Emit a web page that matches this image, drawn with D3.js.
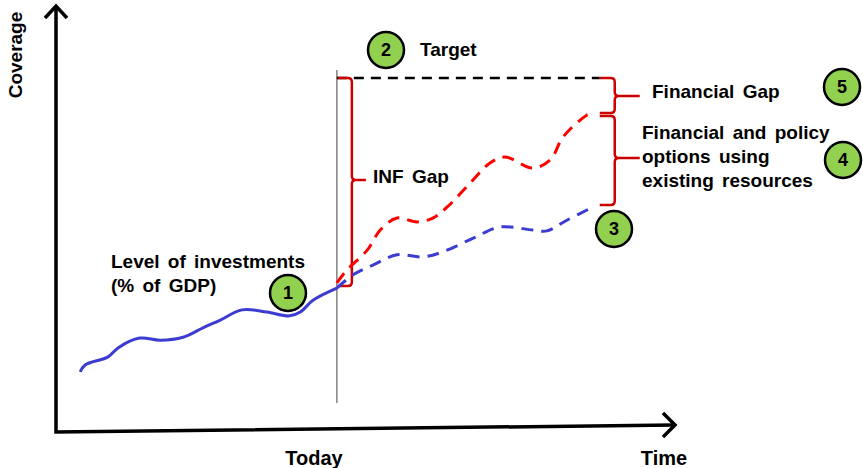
<!DOCTYPE html>
<meta charset="utf-8">
<style>
  body { margin: 0; background: #fff; }
  text { font-family: "Liberation Sans", Arial, sans-serif; font-weight: bold; fill: #000; }
  .narrow { font-family: "Liberation Sans Narrow", "Liberation Sans", Arial, sans-serif; }
</style>
<script src="https://d3js.org/d3.v7.min.js"></script>
<div id="chart"></div>
<script>

// data (time 0-100, coverage 0-100)
var today = 45.3;
var target = 82.9;
var pastTime = [3.9, 4.7, 8.4, 10.0, 13.5, 16.8, 20.5, 23.7, 26.5, 30.0, 34.0, 37.7, 39.4, 41.5, 45.3];
var pastLevel = [14.1, 15.7, 17.6, 19.7, 22.0, 21.5, 22.2, 24.4, 26.2, 28.6, 28.1, 27.2, 28.1, 30.9, 33.7];
var baseTime = [45.3, 47.9, 51.1, 55.0, 59.2, 62.4, 67.3, 71.6, 76.9, 79.2, 82.4, 86.6];
var baseLevel = [33.7, 36.8, 39.1, 41.5, 41.0, 42.2, 45.4, 48.0, 47.3, 47.1, 49.6, 52.7];
var policyTime = [45.3, 46.9, 50.2, 52.3, 55.0, 58.2, 60.8, 63.1, 66.8, 70.0, 72.4, 76.9, 79.7, 81.8, 85.6, 86.6];
var policyLevel = [34.9, 37.9, 42.6, 47.3, 50.1, 49.2, 50.1, 52.7, 58.3, 63.0, 64.4, 61.8, 63.7, 69.1, 74.2, 74.7];
var targetEnd = 87.7;

var width = 863, height = 468;

var svg = d3.select("#chart").append("svg")
  .attr("width", width)
  .attr("height", height);

var x = d3.scaleLinear().domain([0, 100]).range([56, 676]);
var y = d3.scaleLinear().domain([0, 100]).range([432, 5]);

function pts(xs, ys) { return xs.map(function(d, i) { return [d, ys[i]]; }); }

var line = d3.line()
  .x(function(d) { return x(d[0]); })
  .y(function(d) { return y(d[1]); })
  .curve(d3.curveCatmullRom);

// axes (the time axis rises a little towards its arrow)
svg.append("path")
  .attr("d", "M" + x(0) + "," + (y(100) + 2) + "L" + x(0) + "," + y(0) + "L" + (x(100) - 2) + "," + (y(0) - 7))
  .attr("fill", "none").attr("stroke", "#000").attr("stroke-width", 3.5)
  .attr("stroke-linejoin", "miter");
// arrow heads
svg.append("path")
  .attr("d", "M" + (x(0) - 11) + "," + (y(100) + 13) + "L" + x(0) + "," + (y(100) + 1) + "L" + (x(0) + 11) + "," + (y(100) + 13))
  .attr("fill", "none").attr("stroke", "#000").attr("stroke-width", 3.5);
svg.append("path")
  .attr("d", "M" + (x(100) - 13) + "," + (y(0) - 19) + "L" + (x(100) - 1) + "," + (y(0) - 7) + "L" + (x(100) - 13) + "," + (y(0) + 5))
  .attr("fill", "none").attr("stroke", "#000").attr("stroke-width", 3.5);

// today line
svg.append("line")
  .attr("x1", x(today)).attr("x2", x(today))
  .attr("y1", 70).attr("y2", 403)
  .attr("stroke", "#808080").attr("stroke-width", 1.5);

// target
svg.append("line")
  .attr("x1", x(today)).attr("x2", x(targetEnd))
  .attr("y1", y(target)).attr("y2", y(target))
  .attr("stroke", "#000").attr("stroke-width", 2.5)
  .attr("stroke-dasharray", "10,7");

// brackets
function bracket(bx, y0, y1, ym, left, right) {
  var r = 4;
  return "M" + left + "," + y0 +
    "L" + (bx - r) + "," + y0 + "Q" + bx + "," + y0 + " " + bx + "," + (y0 + r) +
    "L" + bx + "," + (ym - r) + "Q" + bx + "," + ym + " " + (bx + r) + "," + ym +
    "L" + right + "," + ym +
    "M" + (bx + r) + "," + ym + "Q" + bx + "," + ym + " " + bx + "," + (ym + r) +
    "L" + bx + "," + (y1 - r) + "Q" + bx + "," + y1 + " " + (bx - r) + "," + y1 +
    "L" + left + "," + y1;
}
var bkt = svg.append("g").attr("fill", "none").attr("stroke", "#cc0000").attr("stroke-width", 2.5);
bkt.append("path").attr("d", bracket(x(today) + 15, y(target), y(policyLevel[0]) + 3, 180, x(today) + 1, x(today) + 29));
var rx = x(targetEnd);
bkt.append("path").attr("d", bracket(rx + 15, y(target), y(policyLevel[policyLevel.length - 1]), 96, rx, rx + 40));
bkt.append("path").attr("d", bracket(rx + 15, y(policyLevel[policyLevel.length - 1]) + 3, y(baseLevel[baseLevel.length - 1]) - 2, 158, rx, rx + 40));

// lines
svg.append("path").attr("d", line(pts(policyTime, policyLevel)))
  .attr("fill", "none").attr("stroke", "#ff0000").attr("stroke-width", 3)
  .attr("stroke-dasharray", "12,8");
svg.append("path").attr("d", line(pts(baseTime, baseLevel)))
  .attr("fill", "none").attr("stroke", "#3c3cd2").attr("stroke-width", 3)
  .attr("stroke-dasharray", "12,8");
svg.append("path").attr("d", line(pts(pastTime, pastLevel)))
  .attr("fill", "none").attr("stroke", "#3c3cd2").attr("stroke-width", 3);

// labels
svg.append("text").attr("transform", "translate(22,55) rotate(-90)")
  .attr("text-anchor", "middle").style("font-size", "19px").text("Coverage");
svg.append("text").attr("class", "narrow").attr("x", 314).attr("y", 465)
  .attr("text-anchor", "middle").style("font-size", "20px").text("Today");
svg.append("text").attr("class", "narrow").attr("x", 664).attr("y", 465)
  .attr("text-anchor", "middle").style("font-size", "20px").text("Time");

var notes = [
  {x: 420, y: 56, t: ["Target"]},
  {x: 373, y: 183, t: ["INF Gap"]},
  {x: 652, y: 98, t: ["Financial Gap"]},
  {x: 642, y: 139, t: ["Financial and policy", "options using", "existing resources"]},
  {x: 111, y: 268, t: ["Level of investments", "(% of GDP)"]}
];
notes.forEach(function(n) {
  var t = svg.append("text").attr("x", n.x).attr("y", n.y).style("font-size", "19px");
  n.t.forEach(function(s, i) {
    t.append("tspan").attr("x", n.x).attr("dy", i ? 24 : 0).style("word-spacing", "3px").text(s);
  });
});

// numbered markers
var markers = [
  {n: "1", x: 288, y: 293},
  {n: "2", x: 386, y: 50},
  {n: "3", x: 614, y: 229},
  {n: "4", x: 843, y: 160},
  {n: "5", x: 842, y: 87}
];
var m = svg.selectAll(".marker").data(markers).enter().append("g")
  .attr("transform", function(d) { return "translate(" + d.x + "," + d.y + ")"; });
m.append("circle").attr("r", 18).attr("fill", "#92d050").attr("stroke", "#000").attr("stroke-width", 2.5);
m.append("text").attr("text-anchor", "middle").attr("dy", "0.36em").style("font-size", "18px")
  .text(function(d) { return d.n; });

</script>
